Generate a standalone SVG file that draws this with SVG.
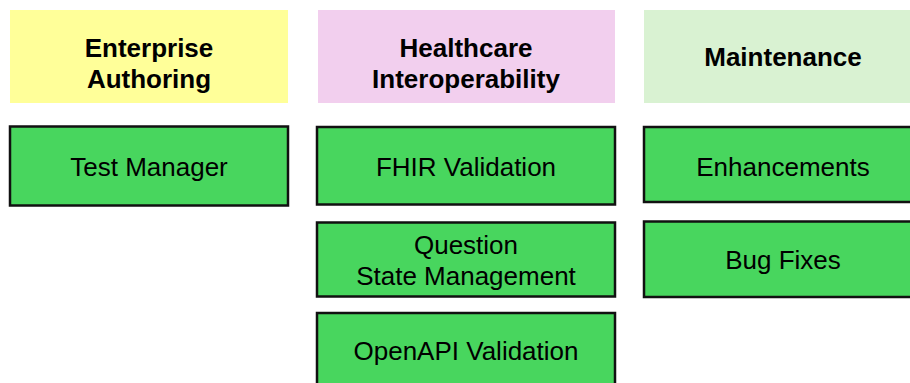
<svg xmlns="http://www.w3.org/2000/svg" width="910" height="383" viewBox="0 0 910 383">
<style>
.hdr{stroke:none}
.box{fill:#48D65E;stroke:#111;stroke-width:2.5}
.ht{font-family:"Liberation Sans",Arial,sans-serif;font-weight:bold;font-size:26px;fill:#000;text-anchor:middle}
.bt{font-family:"Liberation Sans",Arial,sans-serif;font-size:26px;fill:#000;text-anchor:middle}
</style>
<rect width="910" height="383" fill="#fff"/>
<g id="hdr-enterprise">
<rect class="hdr" x="10" y="10" width="278" height="93" fill="#FFFF99"/>
<text class="ht" x="149" y="57">Enterprise</text>
<text class="ht" x="149" y="88">Authoring</text>
</g>
<g id="hdr-healthcare">
<rect class="hdr" x="318" y="10" width="297" height="93" fill="#F2CFEE"/>
<text class="ht" x="466" y="57">Healthcare</text>
<text class="ht" x="466" y="88">Interoperability</text>
</g>
<g id="hdr-maintenance">
<rect class="hdr" x="644" y="10" width="278" height="93" fill="#D9F2D2"/>
<text class="ht" x="783" y="66">Maintenance</text>
</g>
<g id="test-manager">
<rect class="box" x="10" y="126.5" width="278" height="79"/>
<text class="bt" x="149" y="176">Test Manager</text>
</g>
<g id="fhir-validation">
<rect class="box" x="317" y="127" width="298" height="77.5"/>
<text class="bt" x="466" y="176">FHIR Validation</text>
</g>
<g id="question-state">
<rect class="box" x="317" y="222.5" width="298" height="74"/>
<text class="bt" x="466" y="254">Question</text>
<text class="bt" x="466" y="285">State Management</text>
</g>
<g id="openapi-validation">
<rect class="box" x="317" y="313" width="298" height="80"/>
<text class="bt" x="466" y="360">OpenAPI Validation</text>
</g>
<g id="enhancements">
<rect class="box" x="644" y="127" width="280" height="75"/>
<text class="bt" x="783" y="176">Enhancements</text>
</g>
<g id="bug-fixes">
<rect class="box" x="644" y="221.5" width="280" height="75.5"/>
<text class="bt" x="783" y="269">Bug Fixes</text>
</g>
<g id="connectors"></g>
</svg>
